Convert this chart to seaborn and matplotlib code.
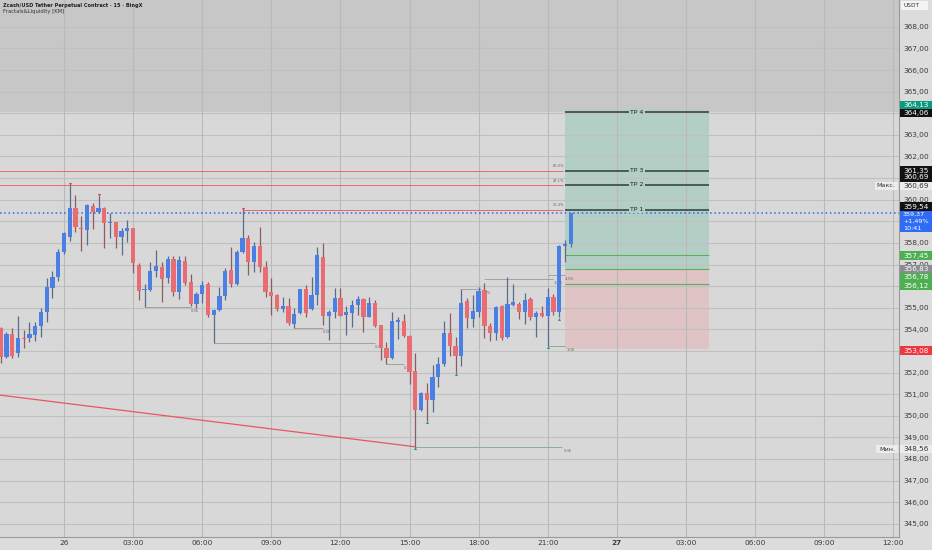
import matplotlib
matplotlib.use("Agg")
import matplotlib.pyplot as plt
from matplotlib.patches import Rectangle
import seaborn as sns
import numpy as np
import pandas as pd

# ---------------- data ----------------
# 15-minute bars, 0 = 26th 00:00
bar_index = list(range(-11, 89))
opens = [354.04, 352.73, 353.78, 352.92, 353.58, 353.58, 353.73, 354.17, 354.79, 355.90,
         356.44, 357.59, 358.29, 359.60, 358.69, 358.60, 359.72, 359.45, 359.63, 358.91,
         358.95, 358.29, 358.55, 358.67, 357.00, 355.80, 355.82, 356.71, 356.87, 356.36,
         357.25, 355.74, 357.18, 356.17, 355.17, 355.63, 356.08, 354.66, 354.89, 355.54,
         356.74, 356.10, 357.56, 358.21, 357.13, 357.86, 356.90, 355.74, 355.59, 354.94,
         355.09, 354.25, 354.74, 355.85, 354.94, 355.59, 357.33, 354.63, 354.79, 355.43,
         354.66, 354.74, 355.13, 355.39, 354.58, 355.23, 354.20, 353.15, 352.65, 354.35,
         354.38, 353.71, 352.07, 350.26, 351.07, 350.73, 351.78, 352.39, 353.81, 353.23,
         352.78, 355.31, 354.48, 354.82, 355.82, 354.17, 353.81, 355.08, 353.63, 355.12,
         355.17, 354.82, 355.39, 354.59, 354.74, 354.62, 355.48, 354.79, 357.84, 357.93]
highs = [354.12, 353.89, 354.04, 354.61, 353.99, 354.35, 354.35, 354.97, 356.36, 356.71,
         357.70, 358.52, 360.69, 360.22, 359.25, 359.80, 359.86, 360.17, 359.65, 359.37,
         358.95, 358.67, 359.06, 358.70, 357.05, 356.08, 357.13, 357.67, 357.13, 357.39,
         357.39, 357.39, 357.39, 356.56, 355.74, 356.25, 356.20, 354.92, 355.94, 356.82,
         357.82, 357.67, 359.52, 358.36, 358.06, 358.72, 357.16, 356.36, 355.62, 355.51,
         355.43, 354.97, 355.88, 356.05, 356.44, 357.83, 357.98, 354.89, 355.90, 355.90,
         355.08, 355.36, 355.54, 355.43, 355.48, 355.36, 354.22, 353.43, 354.82, 354.58,
         354.71, 353.73, 352.89, 351.12, 351.50, 352.35, 352.73, 354.40, 354.77, 353.66,
         355.85, 355.43, 355.59, 355.94, 356.13, 354.31, 355.08, 355.12, 356.41, 356.10,
         355.28, 355.70, 355.48, 354.86, 355.08, 355.90, 355.62, 357.90, 358.13, 359.37]
lows = [352.42, 352.65, 352.68, 352.73, 353.12, 353.43, 353.46, 353.66, 354.35, 355.43,
        356.25, 357.49, 358.10, 358.52, 357.64, 357.90, 358.63, 359.37, 357.75, 358.21,
        357.78, 357.44, 358.06, 356.59, 355.36, 355.02, 355.79, 356.40, 355.28, 356.16,
        355.54, 355.39, 356.05, 355.08, 354.97, 355.20, 354.55, 353.35, 354.85, 355.36,
        355.97, 356.05, 357.52, 356.51, 356.67, 356.67, 355.48, 354.66, 354.86, 354.81,
        354.20, 354.04, 354.70, 354.58, 354.89, 355.13, 354.20, 353.50, 354.51, 354.60,
        353.74, 354.12, 354.66, 353.89, 354.55, 354.12, 352.58, 352.39, 352.62, 353.54,
        353.66, 351.47, 348.56, 350.22, 349.77, 350.19, 351.31, 352.30, 352.76, 351.99,
        352.30, 354.04, 354.12, 354.55, 353.58, 353.46, 353.50, 353.50, 353.58, 355.08,
        354.48, 354.23, 354.43, 353.63, 354.59, 353.23, 354.66, 354.55, 357.13, 357.82]
closes = [352.73, 353.78, 352.76, 353.61, 353.53, 353.77, 354.17, 354.79, 355.94, 356.44,
          357.59, 358.44, 359.60, 358.72, 358.63, 359.75, 359.45, 359.63, 358.91, 358.97,
          358.29, 358.57, 358.70, 357.05, 355.77, 355.87, 356.71, 356.93, 356.33, 357.25,
          355.71, 357.21, 356.16, 355.17, 355.63, 356.05, 354.66, 354.89, 355.54, 356.71,
          356.10, 357.56, 358.21, 357.13, 357.86, 356.90, 355.74, 355.56, 354.94, 355.09,
          354.27, 354.69, 355.85, 354.74, 355.59, 357.44, 354.63, 354.79, 355.43, 354.63,
          354.79, 355.13, 355.40, 354.58, 355.20, 354.15, 353.12, 352.65, 354.38, 354.41,
          353.69, 352.04, 350.26, 351.07, 350.73, 351.78, 352.39, 353.81, 353.23, 352.78,
          355.23, 354.51, 354.85, 355.79, 354.17, 353.81, 355.02, 353.61, 355.17, 355.28,
          354.82, 355.36, 354.59, 354.74, 354.62, 355.51, 354.79, 357.86, 357.93, 359.37]

price_ticks = list(range(345, 369))
time_ticks = [0, 12, 24, 36, 48, 60, 72, 84, 96, 108, 120, 132, 144]
time_labels = ["26", "03:00", "06:00", "09:00", "12:00", "15:00", "18:00", "21:00",
               "27", "03:00", "06:00", "09:00", "12:00"]

resistance_levels = [361.35, 360.69]
fractal_high_bars = [1, 6, 31]
fractal_high_prices = [360.69, 360.17, 359.52]
fractal_low_bars = [61, 63, 68, 84, 86]
fractal_low_prices = [348.56, 349.77, 351.99, 353.23, 354.55]

trend_bars = [-11.3, 61]
trend_prices = [350.96, 348.56]

liq_start = [14, 26, 40, 56, 69, 73, 84]
liq_end = [22, 54, 45, 59, 72.5, 85, 87]
liq_price = [355.02, 353.35, 354.04, 352.39, 355.85, 356.33, 356.51]
liq_text = ["0.36", "0.36", "0.36", "0.36", "0.8%", "1.8%", "4.3%"]
low_liq_start = [61, 84]
low_liq_end = [86.5, 87]
low_liq_price = [348.56, 353.23]
low_liq_text = ["0.36", "1.08"]

entry_price = 356.78
stop_price = 353.08
target_top = 364.13
tp_levels = [359.54, 360.69, 361.35, 364.06]
tp_names = ["TP 1", "TP 2", "TP 3", "TP 4"]
tp_pct = ["26.4%", "47.1%", "66.0%", ""]
green_levels = [357.45, 356.78, 356.12]
zone_start, zone_end = 87, 112
last_price = 359.37
day_high, day_low = 360.69, 348.56

# ---------------- style ----------------
sns.set_theme(style="white")
plt.rcParams["font.family"] = ["DejaVu Sans"]

W, H = 932, 550
fig = plt.figure(figsize=(W / 100, H / 100), dpi=100, facecolor="#dcdcdc")
ax = fig.add_axes([0, 13 / H, 899 / W, 537 / H])
ax.set_facecolor("#d8d8d8")
ax.set_xlim(-11.11, 145.0)
ax.set_ylim(344.385, 369.245)
for s in ax.spines.values():
    s.set_visible(False)
for side in ("right", "bottom"):
    ax.spines[side].set_visible(True)
    ax.spines[side].set_color("#9a9a9a")
    ax.spines[side].set_linewidth(0.8)

# top shaded band
ax.axhspan(364.06, 370, color="#c7c7c7", zorder=0.2, lw=0)

# grid
ax.hlines(price_ticks, -20, 150, color="#c0c0c0", lw=0.8, zorder=0.8)
ax.vlines(time_ticks, 340, 370, color="#b9b9b9", lw=0.8, zorder=0.8)

# axes ticks
ax.yaxis.tick_right()
ax.set_yticks(price_ticks)
ax.set_yticklabels([f"{p},00" for p in price_ticks])
ax.set_xticks(time_ticks)
ax.set_xticklabels(time_labels)
ax.tick_params(axis="y", length=0, pad=3, labelsize=5.3, labelcolor="#3a3a3a")
ax.tick_params(axis="x", length=0, pad=2.5, labelsize=5.3, labelcolor="#3a3a3a")
for lab in ax.get_xticklabels():
    if lab.get_text() == "27":
        lab.set_fontweight("bold")

# TP zones
ax.add_patch(Rectangle((zone_start, entry_price), zone_end - zone_start, target_top - entry_price,
                       facecolor="#b3cfc5", edgecolor="none", zorder=0.5))
ax.add_patch(Rectangle((zone_start, stop_price), zone_end - zone_start, entry_price - stop_price,
                       facecolor="#dfc3c5", edgecolor="none", zorder=0.5))

# resistance lines
ax.hlines(resistance_levels, -12, zone_start - 0.4, color="#e26b6f", lw=0.7, zorder=2)
ax.hlines([fractal_high_prices[2]], fractal_high_bars[2], zone_start - 0.4, color="#e26b6f", lw=0.7, zorder=2)

# diagonal trend line
sns.lineplot(x=trend_bars, y=trend_prices, color="#e3595f", lw=0.9, ax=ax, zorder=2)

# liquidity lines
ax.hlines(liq_price, liq_start, liq_end, color="#8c8c8c", lw=0.5, zorder=2)
for s, e, p, t in zip(liq_start, liq_end, liq_price, liq_text):
    ax.text(e, p - 0.08, t, fontsize=2.6, color="#6a6a6a", ha="left", va="top", zorder=2)
ax.hlines(low_liq_price, low_liq_start, low_liq_end, color="#7fa88c", lw=0.6, zorder=2)
for s, e, p, t in zip(low_liq_start, low_liq_end, low_liq_price, low_liq_text):
    ax.text(e + 0.3, p - 0.08, t, fontsize=2.6, color="#6a6a6a", ha="left", va="top", zorder=2)

# TP lines
ax.hlines(tp_levels, zone_start, zone_end, color="#2f3b39", lw=1.1, zorder=5)
for lvl, name, pct in zip(tp_levels, tp_names, tp_pct):
    ax.text((zone_start + zone_end) / 2, lvl, name, fontsize=4.4, color="#1e1e1e",
            ha="center", va="center", zorder=6,
            bbox=dict(facecolor="#b3cfc5", edgecolor="none", pad=0.8))
    if pct:
        ax.text(zone_start - 0.2, lvl + 0.1, pct, fontsize=2.6, color="#6a6a6a",
                ha="right", va="bottom", zorder=6)
ax.hlines(green_levels, zone_start, zone_end, color="#58b05c", lw=0.8, zorder=4)

# last price dotted line
ax.axhline(last_price, color="#2f66f0", lw=1.1, ls=(0, (1.0, 1.8)), zorder=3)

# candles
df = pd.DataFrame(dict(bar=bar_index, open=opens, high=highs, low=lows, close=closes))
up = (df["close"] >= df["open"]).to_numpy()
body_colors = np.where(up, "#4a7fe3", "#e86c71")
wick_colors = np.where(up, "#5a6b90", "#8e5c5e")
ax.vlines(df["bar"], df["low"], df["high"], colors=wick_colors, lw=0.9, zorder=6)
ax.bar(df["bar"], (df["close"] - df["open"]).abs().clip(lower=0.07),
       bottom=np.minimum(df["open"], df["close"]), width=0.74,
       color=body_colors, linewidth=0, zorder=7)

# fractal markers
ax.scatter(fractal_high_bars, [p + 0.06 for p in fractal_high_prices], marker="v", s=5,
           color="#e0444b", zorder=8, linewidths=0)
ax.scatter(fractal_low_bars, [p - 0.06 for p in fractal_low_prices], marker="^", s=5,
           color="#2a9d6a", zorder=8, linewidths=0)

# ---------------- right price labels ----------------
to_fig = fig.transFigure.inverted()


def fig_y(price, dy_px=0.0):
    y = ax.transData.transform((0, price))[1] - dy_px
    return to_fig.transform((0, y))[1]


def price_box(price, lines, bg, fg, dy_px=0.0, h_px=8.6, x0=900, x1=932, fs=5.2):
    yc = fig_y(price, dy_px)
    n = len(lines)
    hh = h_px * n / H
    top = yc + (h_px / 2) / H
    fig.add_artist(Rectangle((x0 / W, top - hh), (x1 - x0) / W, hh, transform=fig.transFigure,
                             facecolor=bg, edgecolor="none", zorder=20))
    for i, t in enumerate(lines):
        fig.text(903 / W, yc - i * h_px / H, t, fontsize=fs, color=fg,
                 ha="left", va="center", zorder=21)


price_box(target_top, ["364,13"], "#0c9a7f", "white", dy_px=-5.5)
price_box(tp_levels[3], ["364,06"], "#111111", "white", dy_px=1)
price_box(tp_levels[2], ["361,35"], "#111111", "white", dy_px=0)
price_box(tp_levels[1], ["360,69"], "#111111", "white", dy_px=-7.5)
price_box(day_high, ["360,69"], "#ececec", "#333333", dy_px=1.2)
price_box(tp_levels[0], ["359,54"], "#111111", "white", dy_px=-3)
price_box(last_price, ["359,37", "+1,49%", "10:41"], "#2f6cf5", "white", dy_px=1.0, h_px=6.9, fs=4.6)
price_box(green_levels[0], ["357,45"], "#4caf50", "white", dy_px=0.8)
price_box(356.83, ["356,83"], "#8a8c92", "white", dy_px=0.8)
price_box(green_levels[1], ["356,78"], "#4caf50", "white", dy_px=8)
price_box(green_levels[2], ["356,12"], "#4caf50", "white", dy_px=2.4)
price_box(stop_price, ["353,08"], "#f0363f", "white", dy_px=1.5)
price_box(day_low, ["348,56"], "#ececec", "#333333", dy_px=2.2)

# Max / Min tags inside the plot
fig.add_artist(Rectangle((875 / W, fig_y(day_high, 1.2) - 4.3 / H), 23 / W, 8.6 / H,
                         transform=fig.transFigure, facecolor="#ececec", edgecolor="none", zorder=20))
fig.text(886 / W, fig_y(day_high, 1.2), "Макс.", fontsize=4.6, color="#333333",
         ha="center", va="center", zorder=21)
fig.add_artist(Rectangle((876 / W, fig_y(day_low, 2.2) - 4.3 / H), 22 / W, 8.6 / H,
                         transform=fig.transFigure, facecolor="#ececec", edgecolor="none", zorder=20))
fig.text(887 / W, fig_y(day_low, 2.2), "Мин.", fontsize=4.6, color="#333333",
         ha="center", va="center", zorder=21)

# currency tag
fig.add_artist(Rectangle((901 / W, 1 - 10 / H), 27 / W, 8.5 / H, transform=fig.transFigure,
                         facecolor="#f4f4f4", edgecolor="none", zorder=20))
fig.text(903 / W, 1 - 5.8 / H, "USDT", fontsize=4.2, color="#333333", ha="left", va="center", zorder=21)

# titles
fig.text(3 / W, 1 - 5.5 / H, "Zcash/USD Tether Perpetual Contract · 15 · BingX", fontsize=3.6,
         fontweight="bold", color="#222222", ha="left", va="center")
fig.text(3 / W, 1 - 12 / H, "Fractals&Liquidity [KM]", fontsize=3.8, color="#333333",
         ha="left", va="center")

fig.savefig("out.png", dpi=100, facecolor=fig.get_facecolor())
